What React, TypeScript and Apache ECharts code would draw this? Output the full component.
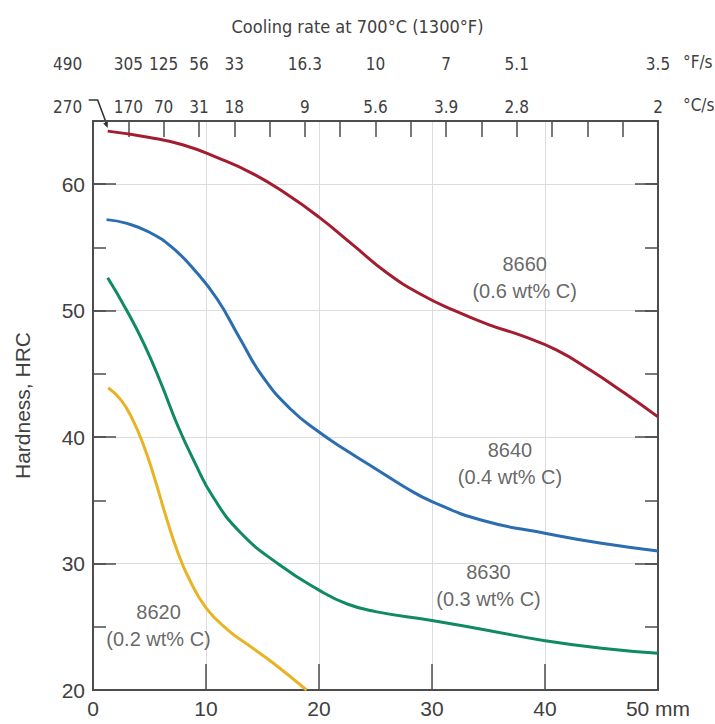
import React, { useEffect, useRef } from 'react';
import * as echarts from 'echarts';

// Jominy distance (mm) at which the top cooling-rate ticks are drawn
const distanceTicksMm = [3.125, 6.25, 9.375, 12.5, 15.625, 18.75, 21.875, 25, 28.125, 31.25, 34.375, 37.5, 40.625, 43.75, 46.875];
// Positions (mm) of the cooling-rate labels
const rateLabelPositionsMm = [1.5625, 3.125, 6.25, 9.375, 12.5, 18.75, 25, 31.25, 37.5, 50];
const rateCelsius = ['270', '170', '70', '31', '18', '9', '5.6', '3.9', '2.8', '2'];
const rateFahrenheit = ['490', '305', '125', '56', '33', '16.3', '10', '7', '5.1', '3.5'];

// Hardness curves [distance mm, HRC]
const steel8660: [number, number][] = [
  [1.3, 64.2], [5, 63.7], [8, 63.1], [11, 62.1], [14, 60.9], [17, 59.3], [20, 57.4], [23, 55.2],
  [26, 53.0], [29, 51.3], [32, 50.0], [35, 48.9], [38, 48.0], [41, 46.9], [44, 45.3], [47, 43.5], [50, 41.6],
];
const steel8640: [number, number][] = [
  [1.2, 57.2], [3, 56.9], [5, 56.2], [7, 55.0], [9, 53.2], [11, 50.9], [13, 47.8], [15, 44.8],
  [17.5, 42.2], [20, 40.4], [22.5, 38.9], [25, 37.5], [27.5, 36.1], [30, 34.9], [34.5, 33.4],
  [40, 32.4], [45, 31.6], [50, 31.0],
];
const steel8630: [number, number][] = [
  [1.3, 52.6], [3, 50.0], [4.5, 47.4], [6, 44.3], [7.5, 40.9], [9, 38.0], [10.6, 35.3], [13, 32.5],
  [16.5, 29.9], [20, 27.9], [22.5, 26.8], [25, 26.2], [30, 25.5], [35, 24.7], [40, 23.9], [45, 23.3], [50, 22.9],
];
const steel8620: [number, number][] = [
  [1.35, 43.9], [2.5, 42.9], [3.5, 41.4], [4.5, 39.3], [5.5, 36.6], [6.5, 33.6], [7.5, 30.9],
  [8.5, 28.8], [10, 26.5], [12, 24.7], [14, 23.4], [16, 22.1], [18.9, 20.0],
];

const curveNames = ['8660', '8640', '8630', '8620'];
const curveLabels = ['8660\n(0.6 wt% C)', '8640\n(0.4 wt% C)', '8630\n(0.3 wt% C)', '8620\n(0.2 wt% C)'];
const curveLabelX = [38.2, 36.9, 35.0, 5.8];
const curveLabelY = [52.6, 37.9, 28.25, 25.1];

export default function App() {
  const ref = useRef<HTMLDivElement>(null);

  useEffect(() => {
    const chart = echarts.init(ref.current!, null, { renderer: 'svg' });
    const narrow = '"Liberation Sans Narrow", "DejaVu Sans Condensed", "Arial Narrow", sans-serif';
    const sans = '"Liberation Sans", Arial, Helvetica, sans-serif';
    const frame = '#4d4d4d';
    const textColor = '#404040';
    const grid = '#dcdcdc';

    const nearestIndex = (v: number) => {
      let best = 0;
      rateLabelPositionsMm.forEach((p, i) => {
        if (Math.abs(p - v) < Math.abs(rateLabelPositionsMm[best] - v)) best = i;
      });
      return best;
    };
    const rateFormatter = (labels: string[]) => (v: number) => {
      const i = nearestIndex(v);
      return i === 0 ? `{first|${labels[0]}}` : labels[i];
    };
    const rateLabel = (labels: string[]) => ({
      show: true,
      customValues: rateLabelPositionsMm,
      margin: 6,
      fontSize: 17,
      fontFamily: narrow,
      color: textColor,
      formatter: rateFormatter(labels),
      rich: { first: { padding: [0, 86, 0, 0], fontSize: 17, fontFamily: narrow, color: textColor } },
    });
    const unitName = {
      fontFamily: narrow, fontSize: 17, color: textColor, verticalAlign: 'bottom', lineHeight: 32,
    };

    const colors = ['#a41c30', '#2a6db0', '#0f8a62', '#e8b324'];
    const curves = [steel8660, steel8640, steel8630, steel8620];

    const option: any = {
      animation: false,
      backgroundColor: '#ffffff',
      title: {
        text: 'Cooling rate at 700°C (1300°F)',
        left: 'center',
        top: 12,
        textStyle: { fontFamily: narrow, fontSize: 18, fontWeight: 'normal', color: textColor },
      },
      grid: { left: 93, right: 57, top: 121, bottom: 34, containLabel: false, outerBoundsMode: 'none' },
      xAxis: [
        {
          type: 'value', position: 'bottom', min: 0, max: 50, interval: 10,
          axisLine: { show: true, onZero: false, lineStyle: { color: frame, width: 2 } },
          axisTick: { show: true, inside: true, length: 26, lineStyle: { color: frame, width: 1.5 } },
          axisLabel: {
            margin: 8, fontSize: 21, fontFamily: sans, color: textColor,
            formatter: (v: number) => (v === 50 ? '50 mm' : String(v)),
          },
          splitLine: { show: true, lineStyle: { color: grid, width: 1 } },
        },
        {
          type: 'value', position: 'top', min: 0, max: 50,
          axisLine: { show: true, onZero: false, lineStyle: { color: frame, width: 2 } },
          axisTick: { show: true, inside: true, length: 16, customValues: distanceTicksMm, lineStyle: { color: frame, width: 1.5 } },
          axisLabel: rateLabel(rateCelsius),
          splitLine: { show: false },
          name: '°C/s', nameLocation: 'end', nameGap: 25, nameMoveOverlap: false,
          nameTextStyle: unitName,
        },
        {
          type: 'value', position: 'top', offset: 43, min: 0, max: 50,
          axisLine: { show: false, onZero: false },
          axisTick: { show: false },
          axisLabel: rateLabel(rateFahrenheit),
          splitLine: { show: false },
          name: '°F/s', nameLocation: 'end', nameGap: 25, nameMoveOverlap: false,
          nameTextStyle: unitName,
        },
      ],
      yAxis: [
        {
          type: 'value', position: 'left', min: 20, max: 65, interval: 10,
          axisLine: { show: true, onZero: false, lineStyle: { color: frame, width: 2 } },
          axisTick: { show: true, inside: true, length: 23, lineStyle: { color: frame, width: 1.5 } },
          axisLabel: {
            margin: 8, fontSize: 21, fontFamily: sans, color: textColor, showMaxLabel: false,
            formatter: (v: number) => (v % 10 === 0 ? String(v) : ''),
          },
          splitLine: { show: true, lineStyle: { color: grid, width: 1 } },
          name: 'Hardness, HRC', nameLocation: 'middle', nameGap: 60,
          nameTextStyle: { fontSize: 21, fontFamily: sans, color: textColor },
        },
        {
          type: 'value', position: 'left', min: 20, max: 65, interval: 5,
          axisLine: { show: false, onZero: false },
          axisTick: { show: true, inside: true, length: 13, lineStyle: { color: frame, width: 1.5 } },
          axisLabel: { show: false },
          splitLine: { show: false },
        },
        {
          type: 'value', position: 'right', min: 20, max: 65, interval: 10,
          axisLine: { show: true, onZero: false, lineStyle: { color: frame, width: 2 } },
          axisTick: { show: true, inside: true, length: 23, lineStyle: { color: frame, width: 1.5 } },
          axisLabel: { show: false },
          splitLine: { show: false },
        },
        {
          type: 'value', position: 'right', min: 20, max: 65, interval: 5,
          axisLine: { show: false, onZero: false },
          axisTick: { show: true, inside: true, length: 13, lineStyle: { color: frame, width: 1.5 } },
          axisLabel: { show: false },
          splitLine: { show: false },
        },
      ],
      series: [
        ...curves.map((data, i) => ({
          name: curveNames[i],
          type: 'line',
          xAxisIndex: 0,
          yAxisIndex: 0,
          data,
          smooth: 0.5,
          symbol: 'none',
          lineStyle: { color: colors[i], width: 3 },
          z: 3,
        })),
        {
          type: 'scatter',
          xAxisIndex: 0,
          yAxisIndex: 0,
          symbolSize: 1,
          silent: true,
          itemStyle: { color: 'transparent' },
          data: curveLabelX.map((x, i) => ({ value: [x, curveLabelY[i]], label: { formatter: curveLabels[i] } })),
          label: {
            show: true, position: 'inside', fontSize: 20, fontFamily: sans, color: textColor, lineHeight: 27,
          },
          z: 4,
        },
      ],
    };

    chart.setOption(option);

    const p = chart.convertToPixel({ seriesIndex: 0 }, steel8660[0]) as number[];
    const tx = p[0];
    const ty = p[1] - 3;
    chart.setOption({
      graphic: [
        {
          type: 'polyline',
          shape: { points: [[tx - 19, ty - 28], [tx - 10, ty - 28], [tx - 1, ty - 4]] },
          style: { stroke: '#333', lineWidth: 1.5, fill: null },
        },
        {
          type: 'polygon',
          shape: { points: [[tx, ty], [tx - 4.5, ty - 4.7], [tx + 0.2, ty - 6.5]] },
          style: { fill: '#333' },
        },
      ],
    });

    return () => chart.dispose();
  }, []);

  return <div ref={ref} style={{ position: 'fixed', left: 0, top: 0, width: 715, height: 724 }} />;
}
